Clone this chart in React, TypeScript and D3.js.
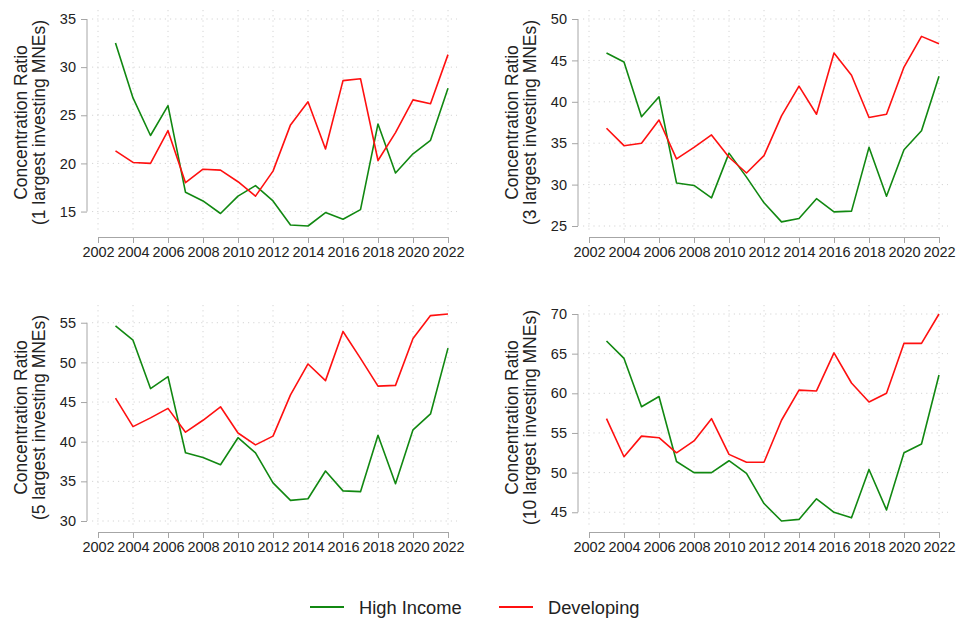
import React, { useEffect, useRef } from 'react';
import * as d3 from 'd3';

const years = [2003, 2004, 2005, 2006, 2007, 2008, 2009, 2010, 2011, 2012, 2013, 2014, 2015, 2016, 2017, 2018, 2019, 2020, 2021, 2022];
const xTicks = [2002, 2004, 2006, 2008, 2010, 2012, 2014, 2016, 2018, 2020, 2022];

const highIncome1 = [32.5, 26.8, 22.9, 26.0, 17.0, 16.1, 14.8, 16.6, 17.7, 16.1, 13.6, 13.5, 14.9, 14.2, 15.2, 24.1, 19.0, 21.0, 22.4, 27.8];
const developing1 = [21.3, 20.1, 20.0, 23.4, 18.0, 19.4, 19.3, 18.1, 16.6, 19.2, 24.0, 26.4, 21.5, 28.6, 28.8, 20.3, 23.2, 26.6, 26.2, 31.3];
const yTicks1 = [15, 20, 25, 30, 35];

const highIncome3 = [45.9, 44.8, 38.2, 40.6, 30.2, 29.9, 28.4, 33.8, 30.9, 27.8, 25.5, 25.9, 28.3, 26.7, 26.8, 34.5, 28.6, 34.2, 36.5, 43.1];
const developing3 = [36.8, 34.7, 35.0, 37.8, 33.1, 34.5, 36.0, 33.3, 31.4, 33.5, 38.3, 41.9, 38.5, 45.9, 43.2, 38.1, 38.5, 44.2, 47.9, 47.0];
const yTicks3 = [25, 30, 35, 40, 45, 50];

const highIncome5 = [54.6, 52.8, 46.7, 48.2, 38.6, 38.0, 37.1, 40.5, 38.6, 34.8, 32.6, 32.8, 36.3, 33.8, 33.7, 40.8, 34.7, 41.5, 43.5, 51.8];
const developing5 = [45.5, 41.9, 43.0, 44.2, 41.2, 42.7, 44.4, 41.1, 39.6, 40.7, 45.9, 49.8, 47.7, 53.9, 50.5, 47.0, 47.1, 53.0, 55.9, 56.1];
const yTicks5 = [30, 35, 40, 45, 50, 55];

const highIncome10 = [66.6, 64.4, 58.3, 59.6, 51.4, 50.0, 50.0, 51.5, 49.9, 46.1, 43.9, 44.1, 46.7, 45.0, 44.3, 50.4, 45.3, 52.5, 53.6, 62.3];
const developing10 = [56.8, 52.0, 54.6, 54.4, 52.5, 54.0, 56.8, 52.3, 51.3, 51.3, 56.6, 60.4, 60.3, 65.1, 61.3, 58.9, 60.0, 66.3, 66.3, 70.0];
const yTicks10 = [45, 50, 55, 60, 65, 70];

const panelTitles = ['(1 largest investing MNEs)', '(3 largest investing MNEs)', '(5 largest investing MNEs)', '(10 largest investing MNEs)'];
const seriesNames = ['High Income', 'Developing'];

const GREEN = '#118811';
const RED = '#ff1010';
const AXIS = '#a6a6a6';
const GRID = '#d4d4d4';
const TEXT = '#222';
const FONT = '"Liberation Sans", Arial, sans-serif';

const W = 956;
const H = 620;
const PLOT_W = 350;
const PLOT_H = 207;
const COL_LEFT = [98, 589];
const ROW_TOP = [19, 314];

export default function App() {
  const svgRef = useRef<SVGSVGElement>(null);

  useEffect(() => {
    if (!svgRef.current) return;
    const svg = d3.select(svgRef.current);
    svg.selectAll('*').remove();

    const panels = [
      { title: panelTitles[0], high: highIncome1, dev: developing1, ticks: yTicks1 },
      { title: panelTitles[1], high: highIncome3, dev: developing3, ticks: yTicks3 },
      { title: panelTitles[2], high: highIncome5, dev: developing5, ticks: yTicks5 },
      { title: panelTitles[3], high: highIncome10, dev: developing10, ticks: yTicks10 },
    ];

    panels.forEach((p, i) => {
      const left = COL_LEFT[i % 2];
      const top = ROW_TOP[Math.floor(i / 2)];
      const bottom = top + PLOT_H;
      const right = left + PLOT_W;

      const all = p.high.concat(p.dev);
      const lo = Math.min(d3.min(all) as number, p.ticks[0]);
      const hi = Math.max(d3.max(all) as number, p.ticks[p.ticks.length - 1]);

      const x = d3.scaleLinear().domain([2002, 2022]).range([left, right]);
      const y = d3.scaleLinear().domain([lo, hi]).range([bottom, top]);

      const g = svg.append('g');

      // dotted grid
      g.selectAll('.hgrid')
        .data(p.ticks)
        .enter()
        .append('line')
        .attr('x1', left - 6)
        .attr('x2', right + 9)
        .attr('y1', d => y(d))
        .attr('y2', d => y(d))
        .attr('stroke', GRID)
        .attr('stroke-width', 1)
        .attr('stroke-dasharray', '1.2 4');

      g.selectAll('.vgrid')
        .data(xTicks)
        .enter()
        .append('line')
        .attr('x1', d => x(d))
        .attr('x2', d => x(d))
        .attr('y1', top - 9)
        .attr('y2', bottom + 4)
        .attr('stroke', GRID)
        .attr('stroke-width', 1)
        .attr('stroke-dasharray', '1.2 4');

      // y axis
      const axisX = left - 11;
      const ya = g.append('g')
        .attr('transform', `translate(${axisX},0)`)
        .call(d3.axisLeft(y).tickValues(p.ticks).tickSize(6).tickSizeOuter(0).tickPadding(5).tickFormat(d3.format('d')));
      ya.select('.domain').remove();
      ya.append('line')
        .attr('x1', 0).attr('x2', 0)
        .attr('y1', y(p.ticks[0]))
        .attr('y2', y(p.ticks[p.ticks.length - 1]))
        .attr('stroke', AXIS);

      // x axis
      const xa = g.append('g')
        .attr('transform', `translate(0,${bottom + 11})`)
        .call(d3.axisBottom(x).tickValues(xTicks).tickSize(6).tickSizeOuter(0).tickPadding(4).tickFormat(d3.format('d')));

      [ya, xa].forEach(a => {
        a.selectAll('line').attr('stroke', AXIS);
        a.selectAll('path').attr('stroke', AXIS);
        a.selectAll('text')
          .attr('fill', TEXT)
          .style('font-family', FONT)
          .style('font-size', '14.5px');
      });

      // axis title
      const cy = (top + bottom) / 2;
      const title = g.append('text')
        .attr('transform', `translate(${axisX - 60},${cy}) rotate(-90)`)
        .attr('text-anchor', 'middle')
        .attr('fill', TEXT)
        .style('font-family', FONT)
        .style('font-size', '17.5px');
      title.append('tspan').attr('x', 0).attr('y', 0).text('Concentration Ratio');
      title.append('tspan').attr('x', 0).attr('y', 17.5).text(p.title);

      // lines
      const line = d3.line<number>()
        .x((_, j) => x(years[j]))
        .y(d => y(d));

      g.append('path')
        .attr('d', line(p.high) as string)
        .attr('fill', 'none')
        .attr('stroke', GREEN)
        .attr('stroke-width', 1.6)
        .attr('stroke-linejoin', 'round');

      g.append('path')
        .attr('d', line(p.dev) as string)
        .attr('fill', 'none')
        .attr('stroke', RED)
        .attr('stroke-width', 1.6)
        .attr('stroke-linejoin', 'round');
    });

    // legend
    const legendItems = [
      { name: seriesNames[0], color: GREEN, x: 310 },
      { name: seriesNames[1], color: RED, x: 499 },
    ];
    const legend = svg.append('g').attr('transform', 'translate(0,607)');
    legendItems.forEach(item => {
      legend.append('line')
        .attr('x1', item.x)
        .attr('x2', item.x + 34)
        .attr('y1', 0)
        .attr('y2', 0)
        .attr('stroke', item.color)
        .attr('stroke-width', 1.8);
      legend.append('text')
        .attr('x', item.x + 49)
        .attr('y', 7)
        .attr('fill', TEXT)
        .style('font-family', FONT)
        .style('font-size', '18.3px')
        .text(item.name);
    });
  }, []);

  return (
    <svg
      ref={svgRef}
      width={W}
      height={H}
      style={{ position: 'absolute', left: 0, top: 0, background: '#fff' }}
    />
  );
}
